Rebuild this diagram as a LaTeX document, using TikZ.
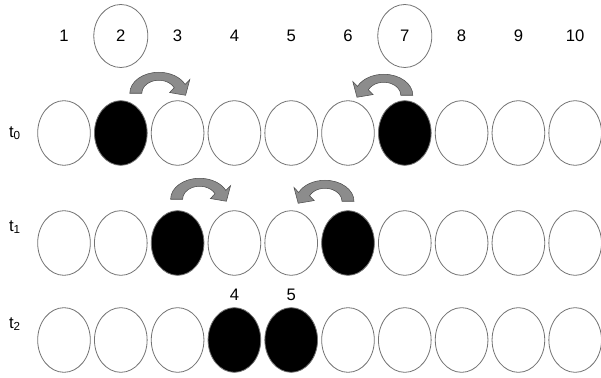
\documentclass[tikz,border=0pt]{standalone}
\usepackage{fontspec}
\setmainfont{Liberation Sans}
\usetikzlibrary{shapes.geometric}
\usetikzlibrary{calc}

\begin{document}
\begin{tikzpicture}[x=0.75pt, y=0.75pt,
    every node/.style={font=\fontsize{12.5}{15}\selectfont},
    ball/.style={ellipse, draw=black!55, line width=0.6pt, inner sep=0pt, minimum width=39.5pt, minimum height=48.5pt},
    hop/.pic={
        \filldraw[fill=black!45, draw=black!70, line width=0.4pt]
            (0,0) arc[start angle=180, end angle=25, x radius=29, y radius=21]
            -- (60.0,13.7) -- (55.8,-2.0) -- (39.8,0.7) -- (44.4,5.5)
            arc[start angle=25, end angle=180, x radius=17, y radius=13] -- cycle;
    }]
    \useasboundingbox (0,0) rectangle (601,-378);

    % site numbers
    \foreach \i in {1,...,10}
        \node (n\i) at ({64+56.8*(\i-1)},-36) {\i};
    \draw[draw=black!55, line width=0.6pt] (n2.center) ellipse [x radius=27, y radius=31.5];
    \draw[draw=black!55, line width=0.6pt] (n7.center) ellipse [x radius=27, y radius=31.5];

    % time steps
    \node (t0) at (15,-133) {t\textsubscript{0}};
    \node (t1) at (15,-227) {t\textsubscript{1}};
    \node (t2) at (15,-324) {t\textsubscript{2}};

    % rows
    \foreach \i/\c in {1/white,2/black,3/white,4/white,5/white,6/white,7/black,8/white,9/white,10/white}
        \node[ball, fill=\c] (a\i) at ({64+56.8*(\i-1)},-133) {};
    \foreach \i/\c in {1/white,2/white,3/black,4/white,5/white,6/black,7/white,8/white,9/white,10/white}
        \node[ball, fill=\c] (b\i) at ({64+56.8*(\i-1)},-243) {};
    \foreach \i/\c in {1/white,2/white,3/white,4/black,5/black,6/white,7/white,8/white,9/white,10/white}
        \node[ball, fill=\c] (c\i) at ({64+56.8*(\i-1)},-340) {};

    \node (l4) at ($(c4.north)+(0,12)$) {4};
    \node (l5) at ($(c5.north)+(0,12)$) {5};

    % hops
    \pic at ($(a2.north)+(9,7)$) {hop};
    \pic[xscale=-1] at ($(a7.north)+(8,5)$) {hop};
    \pic at ($(b3.north)+(-7,11)$) {hop};
    \pic[xscale=-1] at ($(b6.north)+(6,9)$) {hop};
\end{tikzpicture}
\end{document}
